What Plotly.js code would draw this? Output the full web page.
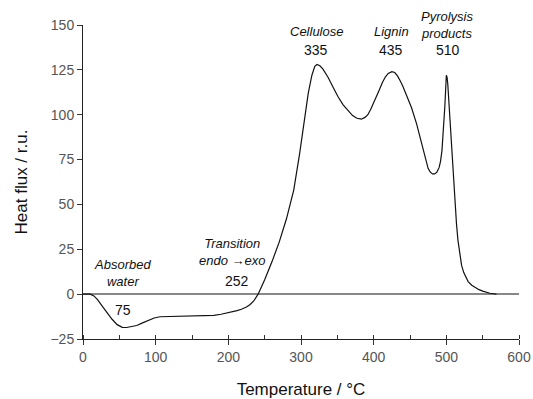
<!DOCTYPE html>
<html>
<head>
<meta charset="utf-8">
<script src="https://cdn.plot.ly/plotly-3.0.1.min.js"></script>
<style>html,body{margin:0;padding:0;background:#fff;}#chart{width:533px;height:399px;}</style>
</head>
<body>
<div id="chart"></div>
<script>
var temperature = [0,10,15,20,27,34,40,47,54,60,66,74,82,90,98,106,120,135,151,165,180,190,198,205,212,218,225,230,235,241,250,260,270,280,290,298,305,310,315,319,322,326,330,337,344,351,358,365,371,377,383,388,392,396,400,404,408,412,416,420,425,429,433,437,440,446,452,459,464,468,472,475,478,481,484,487,490,492,494,496,498,500,501,502,504,506,508,510,512,514,516,518,521,524,527,530,535,540,545,550,555,560,565,569];
var heatFlux = [0,0,-1,-3,-7,-11,-14,-17,-18.5,-18.6,-18.3,-17.5,-16,-14.5,-13.3,-12.6,-12.5,-12.5,-12.4,-12.2,-11.8,-11.2,-10.6,-9.9,-9.2,-8.4,-7.2,-5.8,-3.8,0,8,18,29,42,58,78,98,112,122,127,128,127.3,125.5,121,115.5,110,105.5,102,99.5,98,97.5,98.5,100,103,106.5,110.5,114,118,121,123,124,123.5,121.5,118.5,116,110,104,95,87,80,74,70,68,67,67,68,70.5,74,80,90,105,122,121,117,104,90,75,62,50,39,30,23,16,12,9,7,5,3.5,2.5,1.7,1,0.5,0.2,0];

var xTicks = [0,100,200,300,400,500,600];
var yTicks = [-25,0,25,50,75,100,125,150];

var labelTexts = ['<i>Absorbed</i><br><i>water</i>','75','<i>Transition</i><br><i>endo \u2192exo</i>','252','<i>Cellulose</i>','335','<i>Lignin</i>','435','<i>Pyrolysis</i><br><i>products</i>','510'];
var labelX = [54,55,206,212,321,321,424,424,502,502];
var labelY = [0.210,0.092,0.277,0.185,0.978,0.920,0.978,0.920,1.0,0.920];
var labelSize = [13,14,13,14,13,14,13,14,13,14];

var annotations = labelTexts.map(function(t,i){
  return {text:t, x:labelX[i], y:labelY[i], xref:'x', yref:'paper', xanchor:'center', yanchor:'middle',
    showarrow:false, font:{family:'Liberation Sans, Arial, sans-serif', size:labelSize[i], color:'#111'}, align:'center'};
});

var trace = {x:temperature, y:heatFlux, type:'scatter', mode:'lines',
  line:{color:'#111', width:1.2}, hoverinfo:'skip'};

var layout = {
  width:533, height:399,
  margin:{l:83, r:14, t:25, b:60},
  paper_bgcolor:'#fff', plot_bgcolor:'#fff',
  showlegend:false,
  font:{family:'Liberation Sans, Arial, sans-serif', color:'#333'},
  xaxis:{range:[0,600], tickvals:xTicks, ticks:'outside', ticklen:5, tickcolor:'#333',
    showline:true, linecolor:'#222', linewidth:1, showgrid:false, zeroline:false,
    tickfont:{size:14, color:'#555'},
    minor:{dtick:50, ticks:'inside', ticklen:4, tickcolor:'#333', showgrid:false},
    title:{text:'Temperature / \u00b0C', font:{size:17, color:'#111'}, standoff:20}},
  yaxis:{range:[-25,150], tickvals:yTicks, ticks:'outside', ticklen:5, tickcolor:'#333',
    showline:true, linecolor:'#222', linewidth:1, showgrid:false,
    zeroline:true, zerolinecolor:'#888', zerolinewidth:1.5,
    tickfont:{size:14, color:'#555'},
    title:{text:'Heat flux / r.u.', font:{size:17, color:'#111'}, standoff:18}},
  annotations:annotations
};

Plotly.newPlot('chart',[trace],layout,{staticPlot:true, displayModeBar:false});
</script>
</body>
</html>
